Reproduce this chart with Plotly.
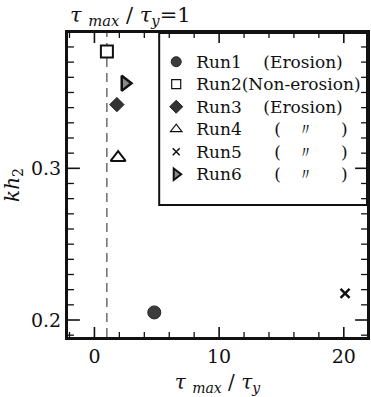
import plotly.graph_objects as go

# Runs plotted as kh2 against the shear-stress ratio tau_max / tau_y
runs = ["Run1", "Run2", "Run3", "Run4", "Run5", "Run6"]
notes = ["(Erosion)", "(Non-erosion)", "(Erosion)", "( 〃 )", "( 〃 )", "( 〃 )"]
stress_ratio = [4.8, 1.0, 1.8, 1.9, 20.1, 2.45]
kh2 = [0.205, 0.377, 0.342, 0.307, 0.2175, 0.356]

x_ticks = [0, 10, 20]
y_ticks = [0.2, 0.3]
y_tick_text = ["0.2", "0.3"]
x_minor_step = 2
y_minor_step = 0.01

X_RANGE = [-2.12, 21.86]
Y_RANGE = [0.1888, 0.3892]

W, H = 371, 397
MARGIN = dict(l=68, r=1, t=33, b=60)
PLOT_W = W - MARGIN["l"] - MARGIN["r"]
PLOT_H = H - MARGIN["t"] - MARGIN["b"]

FONT = "DejaVu Serif"
INK = "#111111"

styles = {
    "Run1": dict(symbol="circle", size=13, color="#3c3c3c", line=dict(color="#222", width=1)),
    "Run2": dict(symbol="square", size=12, color="white", line=dict(color=INK, width=2)),
    "Run3": dict(symbol="diamond", size=11, color="#333333", line=dict(color="#222", width=1)),
    "Run4": dict(symbol="triangle-up", size=13, color="white", line=dict(color=INK, width=2)),
    "Run5": dict(symbol="x-thin", size=9, color=INK, line=dict(color=INK, width=2.5)),
    "Run6": dict(symbol="triangle-right", size=13, color="#8a8a8a", line=dict(color=INK, width=2.5)),
}
legend_styles = {
    "Run1": dict(symbol="circle", size=10, color="#3c3c3c", line=dict(color="#222", width=1)),
    "Run2": dict(symbol="square", size=9, color="white", line=dict(color=INK, width=1.2)),
    "Run3": dict(symbol="diamond", size=10, color="#333333", line=dict(color="#222", width=1)),
    "Run4": dict(symbol="triangle-up", size=10, color="white", line=dict(color=INK, width=1.2)),
    "Run5": dict(symbol="x-thin", size=7, color=INK, line=dict(color=INK, width=1.5)),
    "Run6": dict(symbol="triangle-right", size=10, color="#8a8a8a", line=dict(color=INK, width=2)),
}

NB = "\u00a0"
gaps = {"Run1": 4, "Run2": 0, "Run3": 4, "Run4": 6, "Run5": 6, "Run6": 6}


def legend_label(run, note):
    if note.startswith("( "):
        text = "(" + NB * 3 + "〃" + NB * 5 + ")"
    else:
        text = note
    return '<span style="font-size:17px">' + run + NB * gaps[run] + text + "</span>"


fig = go.Figure()

# tau_max / tau_y = 1 reference line
fig.add_shape(type="line", xref="x", yref="paper", x0=1, x1=1, y0=0, y1=1,
              line=dict(color="#222", width=1, dash="9px,6px"), layer="below")

# legend frame
fig.add_shape(type="rect", xref="paper", yref="paper", x0=0.305, x1=1.0, y0=0.434, y1=1.0,
              line=dict(color=INK, width=2), fillcolor="white", layer="below")

# inward tick marks on all four sides, drawn as line segments on the data scales
x_unit = (X_RANGE[1] - X_RANGE[0]) / PLOT_W
y_unit = (Y_RANGE[1] - Y_RANGE[0]) / PLOT_H


def tick_segments(x_vals, y_vals, x_len, y_len):
    xs, ys = [], []
    for v in x_vals:
        for base, sign in ((Y_RANGE[0], 1), (Y_RANGE[1], -1)):
            xs += [v, v, None]
            ys += [base, base + sign * x_len * y_unit, None]
    for v in y_vals:
        for base, sign in ((X_RANGE[0], 1), (X_RANGE[1], -1)):
            xs += [base, base + sign * y_len * x_unit, None]
            ys += [v, v, None]
    return xs, ys


n_x = int((X_RANGE[1] - X_RANGE[0]) // x_minor_step) + 2
x_minor = [-2 + k * x_minor_step for k in range(n_x)]
x_minor = [v for v in x_minor if X_RANGE[0] < v < X_RANGE[1] and v not in x_ticks]
n_y = int(round((Y_RANGE[1] - Y_RANGE[0]) / y_minor_step)) + 2
y_minor = [round(0.18 + k * y_minor_step, 3) for k in range(n_y)]
y_minor = [v for v in y_minor if Y_RANGE[0] < v < Y_RANGE[1] and v not in y_ticks]

for xv, yv, xl, yl, lw in ((x_minor, y_minor, 5, 6, 1.3), (x_ticks, y_ticks, 10, 12, 1.6)):
    sx, sy = tick_segments(xv, yv, xl, yl)
    fig.add_trace(go.Scatter(x=sx, y=sy, mode="lines", line=dict(color=INK, width=lw),
                             showlegend=False, hoverinfo="skip", connectgaps=False))

for run, xv, yv in zip(runs, stress_ratio, kh2):
    fig.add_trace(go.Scatter(x=[xv], y=[yv], mode="markers", marker=styles[run],
                             showlegend=False, hoverinfo="skip"))

for run, note in zip(runs, notes):
    fig.add_trace(go.Scatter(x=[None], y=[None], mode="markers", marker=legend_styles[run],
                             name=legend_label(run, note), showlegend=True))

ratio_label = "<i>τ</i> <sub><i>max</i></sub> / <i>τ</i><sub><i>y</i></sub>"

fig.add_annotation(xref="paper", yref="paper", x=0.0, y=1.0, yshift=17,
                   xanchor="left", yanchor="middle", showarrow=False,
                   text=ratio_label + "=1",
                   font=dict(family=FONT, size=21, color=INK))

fig.update_layout(
    width=W, height=H,
    margin=MARGIN,
    paper_bgcolor="white", plot_bgcolor="white",
    font=dict(family=FONT, size=19, color=INK),
    showlegend=True,
    legend=dict(x=0.295, y=0.959, xanchor="left", yanchor="top",
                bgcolor="rgba(0,0,0,0)", borderwidth=0,
                font=dict(family=FONT, size=15, color=INK),
                itemwidth=30, tracegroupgap=0),
    xaxis=dict(
        range=X_RANGE, tickvals=x_ticks, ticks="",
        showline=True, linewidth=3, linecolor=INK, mirror=True,
        showgrid=False, zeroline=False,
        title=dict(text=ratio_label, font=dict(family=FONT, size=20), standoff=10),
        tickfont=dict(family=FONT, size=19),
    ),
    yaxis=dict(
        range=Y_RANGE, tickvals=y_ticks, ticktext=y_tick_text, ticks="",
        showline=True, linewidth=3, linecolor=INK, mirror=True,
        showgrid=False, zeroline=False,
        title=dict(text="<i>kh</i><sub>2</sub>", font=dict(family=FONT, size=20), standoff=12),
        tickfont=dict(family=FONT, size=19),
    ),
)

fig.write_html("out.html")
